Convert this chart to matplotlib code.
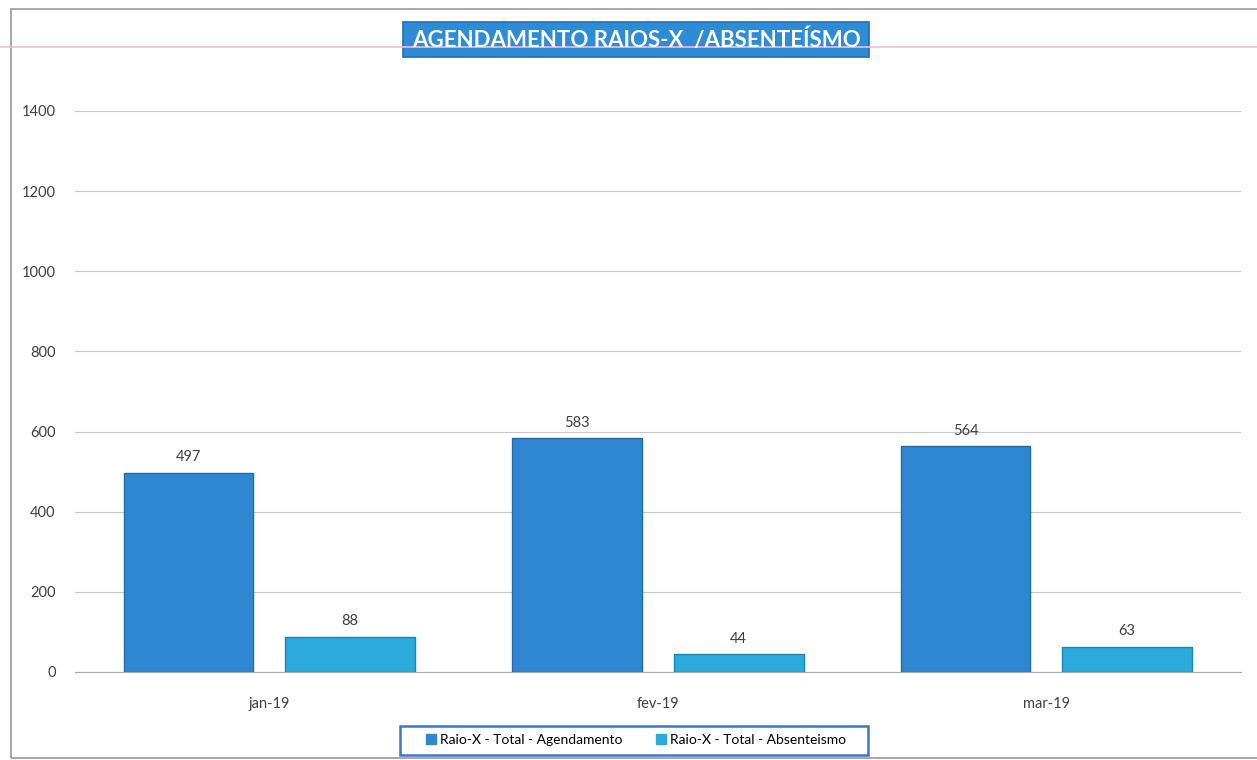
import matplotlib.pyplot as plt
from matplotlib.patches import Rectangle
from matplotlib.lines import Line2D
import numpy as np

months = ["jan-19", "fev-19", "mar-19"]
agendamento = [497, 583, 564]
absenteismo = [88, 44, 63]
yticks = [0, 200, 400, 600, 800, 1000, 1200, 1400]

plt.rcParams['font.family'] = ['Lato', 'DejaVu Sans']

fig = plt.figure(figsize=(12.57, 7.60), dpi=100)
ax = fig.add_axes([0.0597, 0.1158, 0.9273, 0.7382])

x = np.arange(len(months))
w = 0.334
off = 0.208
c1 = "#2F87D2"
c2 = "#2AAADD"

b1 = ax.bar(x - off, agendamento, w, color=c1, edgecolor="#1F6BAE", linewidth=1, zorder=3)
b2 = ax.bar(x + off, absenteismo, w, color=c2, edgecolor="#1B86B5", linewidth=1, zorder=3)

for bars in (b1, b2):
    for r in bars:
        ax.annotate(str(int(r.get_height())), (r.get_x() + r.get_width() / 2, r.get_height()),
                    xytext=(0, 6), textcoords="offset points", ha="center", va="bottom",
                    fontsize=10.5, color="#404040")

ax.set_xlim(-0.5, 2.5)
ax.set_ylim(0, 1400)
ax.set_yticks(yticks)
ax.set_xticks(x)
ax.set_xticklabels(months)
ax.tick_params(axis="both", length=0, labelsize=10.5, labelcolor="#404040")
ax.tick_params(axis="y", pad=14)
ax.tick_params(axis="x", pad=18)
ax.yaxis.grid(True, color="#C8C8C8", linewidth=0.8, zorder=0)
for s in ("top", "right", "left"):
    ax.spines[s].set_visible(False)
ax.spines["bottom"].set_color("#A8A8A8")
ax.spines["bottom"].set_linewidth(0.8)

# outer chart frame
fig.add_artist(Rectangle((11 / 1257, 2 / 760), 1.2, 749 / 760, transform=fig.transFigure,
                         fill=False, edgecolor="#9A9A9A", linewidth=1.2))
# faint pink scan line
fig.add_artist(Line2D([0, 1], [1 - 47 / 760, 1 - 47 / 760], transform=fig.transFigure,
                      color="#F4BCD8", linewidth=1.2))

# title in a blue box
fig.add_artist(Rectangle((403 / 1257, 1 - 57 / 760), 466 / 1257, 35 / 760, transform=fig.transFigure,
                         facecolor="#2E8BD6", edgecolor="#1E6FB8", linewidth=1.2))
fig.text(636 / 1257, 1 - 40 / 760, "AGENDAMENTO RAIOS-X  /ABSENTEÍSMO", ha="center", va="center",
         fontsize=16, fontweight="bold", color="white")

# legend box
fig.add_artist(Rectangle((400 / 1257, 1 - 755 / 760), 468 / 1257, 29 / 760, transform=fig.transFigure,
                         facecolor="white", edgecolor="#3C78C8", linewidth=1.8))
handles = [Rectangle((0, 0), 1, 1, color=c1), Rectangle((0, 0), 1, 1, color=c2)]
fig.legend(handles, ["Raio-X - Total - Agendamento", "Raio-X - Total - Absenteismo"],
           loc="center", bbox_to_anchor=(636 / 1257, 1 - 740 / 760), ncol=2, frameon=False,
           fontsize=10, handlelength=0.7, handleheight=0.7, handletextpad=0.3, columnspacing=2.4)

fig.savefig("out.png", dpi=100)
